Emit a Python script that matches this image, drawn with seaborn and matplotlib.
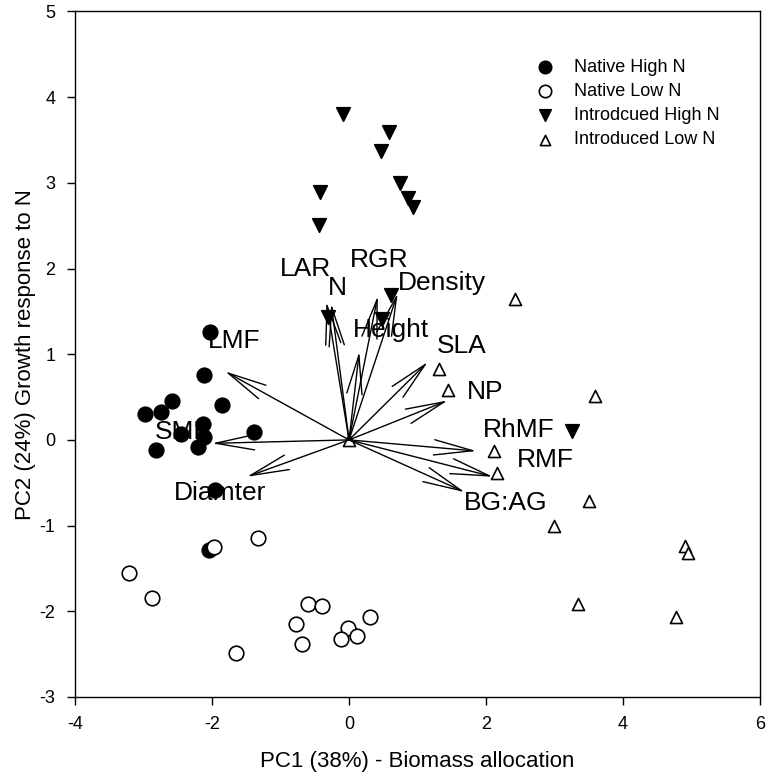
import pandas as pd
import matplotlib.pyplot as plt
import seaborn as sns

# PCA scores
native_high_x = [-2.03, -2.11, -1.85, -2.59, -2.75, -2.98, -2.13, -2.46, -2.11, -2.21, -2.82, -1.38, -1.95, -2.05]
native_high_y = [1.26, 0.76, 0.41, 0.45, 0.32, 0.30, 0.19, 0.07, 0.03, -0.08, -0.12, 0.09, -0.58, -1.28]

native_low_x = [-1.97, -1.33, -3.21, -2.87, -1.65, -0.60, -0.40, -0.77, -0.68, -0.02, -0.11, 0.12, 0.31]
native_low_y = [-1.25, -1.14, -1.55, -1.84, -2.49, -1.91, -1.94, -2.15, -2.38, -2.19, -2.32, -2.29, -2.07]

intro_high_x = [-0.09, 0.58, 0.46, 0.74, 0.86, 0.93, -0.42, -0.44, 0.62, 0.48, -0.30, 3.26]
intro_high_y = [3.80, 3.59, 3.37, 3.00, 2.82, 2.72, 2.89, 2.51, 1.69, 1.41, 1.44, 0.10]

intro_low_x = [2.42, 1.31, 1.44, 3.59, 2.11, 2.16, 3.50, 2.99, 4.90, 4.95, 3.35, 4.78, 0.0]
intro_low_y = [1.65, 0.83, 0.58, 0.51, -0.13, -0.39, -0.71, -1.01, -1.24, -1.32, -1.91, -2.07, 0.0]

# loading vectors and their labels
var_names = ['LMF', 'SMF', 'Diamter', 'LAR', 'N', 'RGR', 'Density', 'Height',
             'SLA', 'NP', 'RhMF', 'RMF', 'BG:AG']
load_x = [-1.81, -2.00, -1.49, -0.33, -0.26, 0.42, 0.71, 0.15, 1.15, 1.44, 1.86, 2.10, 1.69]
load_y = [0.80, -0.04, -0.43, 1.61, 1.59, 1.68, 1.71, 1.03, 0.91, 0.46, -0.13, -0.43, -0.61]
label_x = [-1.68, -2.43, -1.89, -0.63, -0.17, 0.44, 1.35, 0.62, 1.64, 1.98, 2.47, 2.86, 2.29]
label_y = [1.16, 0.09, -0.62, 2.00, 1.77, 2.10, 1.83, 1.28, 1.10, 0.56, 0.12, -0.24, -0.74]

groups = [
    ('Native High N', native_high_x, native_high_y, 'o', 'black', 110),
    ('Native Low N', native_low_x, native_low_y, 'o', 'white', 110),
    ('Introdcued High N', intro_high_x, intro_high_y, 'v', 'black', 95),
    ('Introduced Low N', intro_low_x, intro_low_y, '^', 'white', 75),
]

sns.set_style('ticks')
plt.rcParams['font.family'] = ['Liberation Sans', 'DejaVu Sans']
plt.rcParams['axes.unicode_minus'] = False
plt.rcParams['text.color'] = 'black'
plt.rcParams['axes.labelcolor'] = 'black'
plt.rcParams['xtick.color'] = 'black'
plt.rcParams['ytick.color'] = 'black'

fig = plt.figure(figsize=(7.68, 7.81), dpi=100)
ax = fig.add_axes([0.0977, 0.1076, 0.8919, 0.8777])

for name, xs, ys, mk, fc, size in groups:
    df = pd.DataFrame({'PC1': xs, 'PC2': ys})
    sns.scatterplot(data=df, x='PC1', y='PC2', marker=mk, s=size, color=fc,
                    edgecolor='black', linewidth=1.2, label=name, ax=ax, zorder=2)

for name, lx, ly, tx, ty in zip(var_names, load_x, load_y, label_x, label_y):
    ax.annotate('', xy=(lx, ly), xytext=(0, 0),
                arrowprops=dict(arrowstyle='->,head_length=2.8,head_width=0.55',
                                color='black', lw=1.0, mutation_scale=10,
                                shrinkA=0, shrinkB=0), zorder=3)
    ax.text(tx, ty, name, fontsize=19, ha='center', va='center', zorder=4)

ax.set_xlim(-4, 6)
ax.set_ylim(-3, 5)
ax.set_xticks([-4, -2, 0, 2, 4, 6])
ax.set_yticks([-3, -2, -1, 0, 1, 2, 3, 4, 5])
ax.tick_params(labelsize=13, length=6, width=1, direction='out', pad=8)
ax.set_xlabel('PC1 (38%) - Biomass allocation', fontsize=16, labelpad=13)
ax.set_ylabel('PC2 (24%) Growth response to N', fontsize=16, labelpad=3)
for sp in ax.spines.values():
    sp.set_visible(True)
    sp.set_linewidth(1.0)
    sp.set_color('black')

ax.legend(loc='upper right', bbox_to_anchor=(0.965, 0.955), frameon=False,
          fontsize=13, handletextpad=0.6, labelspacing=0.4, markerscale=0.85)

fig.savefig('out.png', dpi=100)
